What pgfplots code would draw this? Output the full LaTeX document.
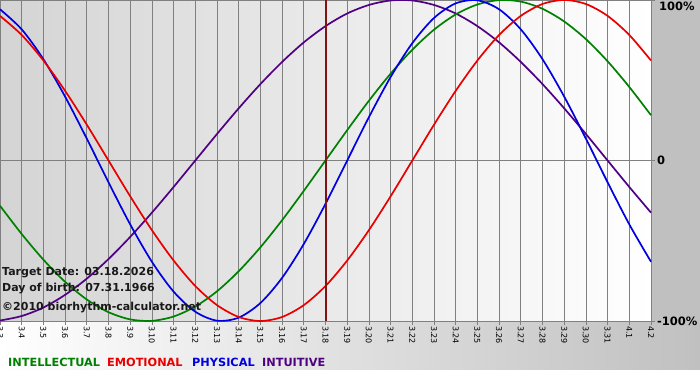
\documentclass[border=0pt]{standalone}
\usepackage{pgfplots}
\pgfplotsset{compat=1.18}
\usepackage{pgfplotstable}
\usepackage{fontspec}
\setmainfont{DejaVu Sans}
\definecolor{cint}{RGB}{0,128,0}
\definecolor{cemo}{RGB}{232,0,0}
\definecolor{cphy}{RGB}{0,0,224}
\definecolor{cintu}{RGB}{80,0,130}
\definecolor{ctarget}{RGB}{128,20,20}
\definecolor{gridc}{RGB}{128,128,128}
\definecolor{panel}{RGB}{192,192,192}
\definecolor{plotl}{RGB}{212,212,212}

\pgfplotstableread{
i intel emo phys intu
0 -0.282 0.901 0.942 -0.997
1 -0.458 0.782 0.817 -0.969
2 -0.618 0.623 0.631 -0.916
3 -0.756 0.434 0.398 -0.837
4 -0.866 0.223 0.136 -0.736
5 -0.945 0 -0.136 -0.614
6 -0.990 -0.223 -0.398 -0.476
7 -0.999 -0.434 -0.631 -0.325
8 -0.972 -0.623 -0.817 -0.165
9 -0.910 -0.782 -0.942 0
10 -0.815 -0.901 -0.998 0.165
11 -0.690 -0.975 -0.979 0.325
12 -0.541 -1 -0.888 0.476
13 -0.372 -0.975 -0.731 0.614
14 -0.189 -0.901 -0.520 0.736
15 0 -0.782 -0.270 0.837
16 0.189 -0.623 0 0.916
17 0.372 -0.434 0.270 0.969
18 0.541 -0.223 0.520 0.997
19 0.690 0 0.731 0.997
20 0.815 0.223 0.888 0.969
21 0.910 0.434 0.979 0.916
22 0.972 0.623 0.998 0.837
23 0.999 0.782 0.942 0.736
24 0.990 0.901 0.817 0.614
25 0.945 0.975 0.631 0.476
26 0.866 1 0.398 0.325
27 0.756 0.975 0.136 0.165
28 0.618 0.901 -0.136 0
29 0.458 0.782 -0.398 -0.165
30 0.282 0.623 -0.631 -0.325
}\bio

\begin{document}
\begin{tikzpicture}
\useasboundingbox (0pt,0pt) rectangle (700pt,380pt);
\shade[left color=white, right color=panel] (0pt,11pt) rectangle (700pt,59pt);
\fill[panel] (651pt,59pt) rectangle (700pt,380pt);
\begin{axis}[at={(0pt,59pt)}, anchor=south west,
  width=651pt, height=321pt, scale only axis,
  xmin=0, xmax=30, ymin=-1, ymax=1, clip=false,
  axis background/.style={left color=plotl, right color=white},
  axis line style={gridc, line width=0.8pt},
  xtick={0,...,30},
  xticklabels={3.3,3.4,3.5,3.6,3.7,3.8,3.9,3.10,3.11,3.12,3.13,3.14,3.15,3.16,3.17,3.18,3.19,3.20,3.21,3.22,3.23,3.24,3.25,3.26,3.27,3.28,3.29,3.30,3.31,4.1,4.2},
  xtick pos=bottom, ytick pos=right, yticklabel pos=right,
  tick align=outside, major tick length=4pt,
  tick style={gridc, line width=0.8pt},
  xmajorgrids, ymajorgrids, grid style={gridc, line width=0.8pt},
  ytick={-1,0,1}, yticklabels={-100\%,0,{}},
  xticklabel style={rotate=-90, anchor=west, font=\fontsize{8}{9}\selectfont, inner sep=1pt},
  yticklabel style={anchor=west, font=\bfseries\fontsize{11.5}{12}\selectfont, inner sep=1pt, xshift=1pt},
  /pgf/number format/assume math mode=true,
]
\addplot[cintu, line width=1.7pt, smooth, no marks] table[x=i, y=intu] {\bio};
\addplot[cint, line width=1.7pt, smooth, no marks] table[x=i, y=intel] {\bio};
\addplot[cphy, line width=1.7pt, smooth, no marks] table[x=i, y=phys] {\bio};
\addplot[cemo, line width=1.7pt, smooth, no marks] table[x=i, y=emo] {\bio};
\addplot[ctarget, line width=2pt, sharp plot, no marks] coordinates {(15,-1) (15,1)};
\end{axis}
\node[anchor=base west, inner sep=0, font=\bfseries\fontsize{11.5}{12}\selectfont] at (659pt,369pt) {100\%};
\node[anchor=base west, inner sep=0, font=\bfseries\fontsize{11}{12}\selectfont, text=black!90] at (2pt,104.5pt) {Target Date: 03.18.2026};
\node[anchor=base west, inner sep=0, font=\bfseries\fontsize{11}{12}\selectfont, text=black!90] at (2pt,89pt) {Day of birth: 07.31.1966};
\node[anchor=base west, inner sep=0, font=\bfseries\fontsize{11}{12}\selectfont, text=black!90] at (2pt,69.5pt) {©2010 biorhythm-calculator.net};
\begin{scope}[every node/.style={anchor=base west, inner sep=0, font=\bfseries\fontsize{11.3}{12}\selectfont}]
\node[text=cint] at (8pt,14pt) {INTELLECTUAL};
\node[text=cemo] at (107pt,14pt) {EMOTIONAL};
\node[text=cphy] at (192pt,14pt) {PHYSICAL};
\node[text=cintu] at (262pt,14pt) {INTUITIVE};
\end{scope}
\end{tikzpicture}
\end{document}
